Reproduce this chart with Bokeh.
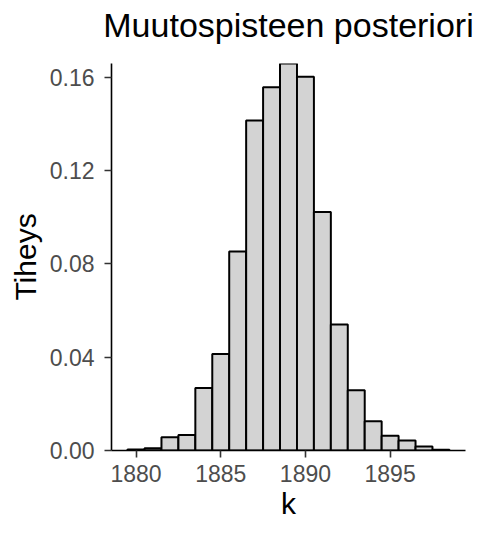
from bokeh.plotting import figure
from bokeh.models import Range1d, FixedTicker, NumeralTickFormatter, ColumnDataSource, Label
from bokeh.embed import file_html
from bokeh.resources import INLINE

# Data: posterior density of change point k
k_values = [1880, 1881, 1882, 1883, 1884, 1885, 1886, 1887, 1888, 1889,
            1890, 1891, 1892, 1893, 1894, 1895, 1896, 1897, 1898]
density = [0.0004, 0.0010, 0.0057, 0.0067, 0.0268, 0.0414, 0.0854, 0.1415, 0.1558, 0.1660,
           0.1603, 0.1023, 0.0541, 0.0258, 0.0126, 0.0063, 0.0043, 0.0017, 0.0003]
x_ticks = [1880, 1885, 1890, 1895]
y_ticks = [0.00, 0.04, 0.08, 0.12, 0.16]

title_text = "Muutospisteen posteriori"
x_label = "k"
y_label = "Tiheys"

binwidth = 1.0
left = [k - binwidth / 2 for k in k_values]
right = [k + binwidth / 2 for k in k_values]
src = ColumnDataSource(dict(left=left, right=right, top=density, bottom=[0.0] * len(density)))

span = (max(right) - min(left))
x_range = Range1d(min(left) - 0.05 * span, max(right) + 0.05 * span)
y_range = Range1d(0, max(density))

FONT = "Liberation Sans"
FRAME_W, FRAME_H = 354, 387

p = figure(output_backend="svg", toolbar_location=None,
           frame_width=FRAME_W, frame_height=FRAME_H,
           min_border_left=111, min_border_right=15,
           min_border_top=63, min_border_bottom=87,
           x_range=x_range, y_range=y_range)

p.quad(left="left", right="right", top="top", bottom="bottom", source=src,
       fill_color="#D3D3D3", line_color="black", line_width=2.0)

# Title placed in the top panel
title = Label(x=FRAME_W / 2, y=39, x_units="screen", y_units="screen",
              text=title_text, text_align="center", text_baseline="alphabetic",
              text_font=FONT, text_font_size="34px", text_color="black")
p.add_layout(title, "above")

p.background_fill_color = "white"
p.border_fill_color = "white"
p.outline_line_color = None
p.xgrid.grid_line_color = None
p.ygrid.grid_line_color = None

for ax in (p.xaxis, p.yaxis):
    ax.axis_line_color = "black"
    ax.axis_line_width = 1.6
    ax.major_tick_line_color = "#333333"
    ax.major_tick_line_width = 1.6
    ax.major_tick_out = 7
    ax.major_tick_in = 0
    ax.minor_tick_line_color = None
    ax.major_label_text_font = FONT
    ax.major_label_text_font_size = "23px"
    ax.major_label_text_color = "#4D4D4D"
    ax.axis_label_text_font = FONT
    ax.axis_label_text_font_size = "30px"
    ax.axis_label_text_font_style = "normal"
    ax.axis_label_text_color = "black"

p.xaxis.ticker = FixedTicker(ticks=x_ticks)
p.yaxis.ticker = FixedTicker(ticks=y_ticks)
p.yaxis.formatter = NumeralTickFormatter(format="0.00")
p.xaxis.axis_label = x_label
p.yaxis.axis_label = y_label
p.xaxis.major_label_standoff = 7
p.yaxis.major_label_standoff = 10
p.xaxis.axis_label_standoff = 2
p.yaxis.axis_label_standoff = 5

open("out.html", "w").write(file_html(p, INLINE))
